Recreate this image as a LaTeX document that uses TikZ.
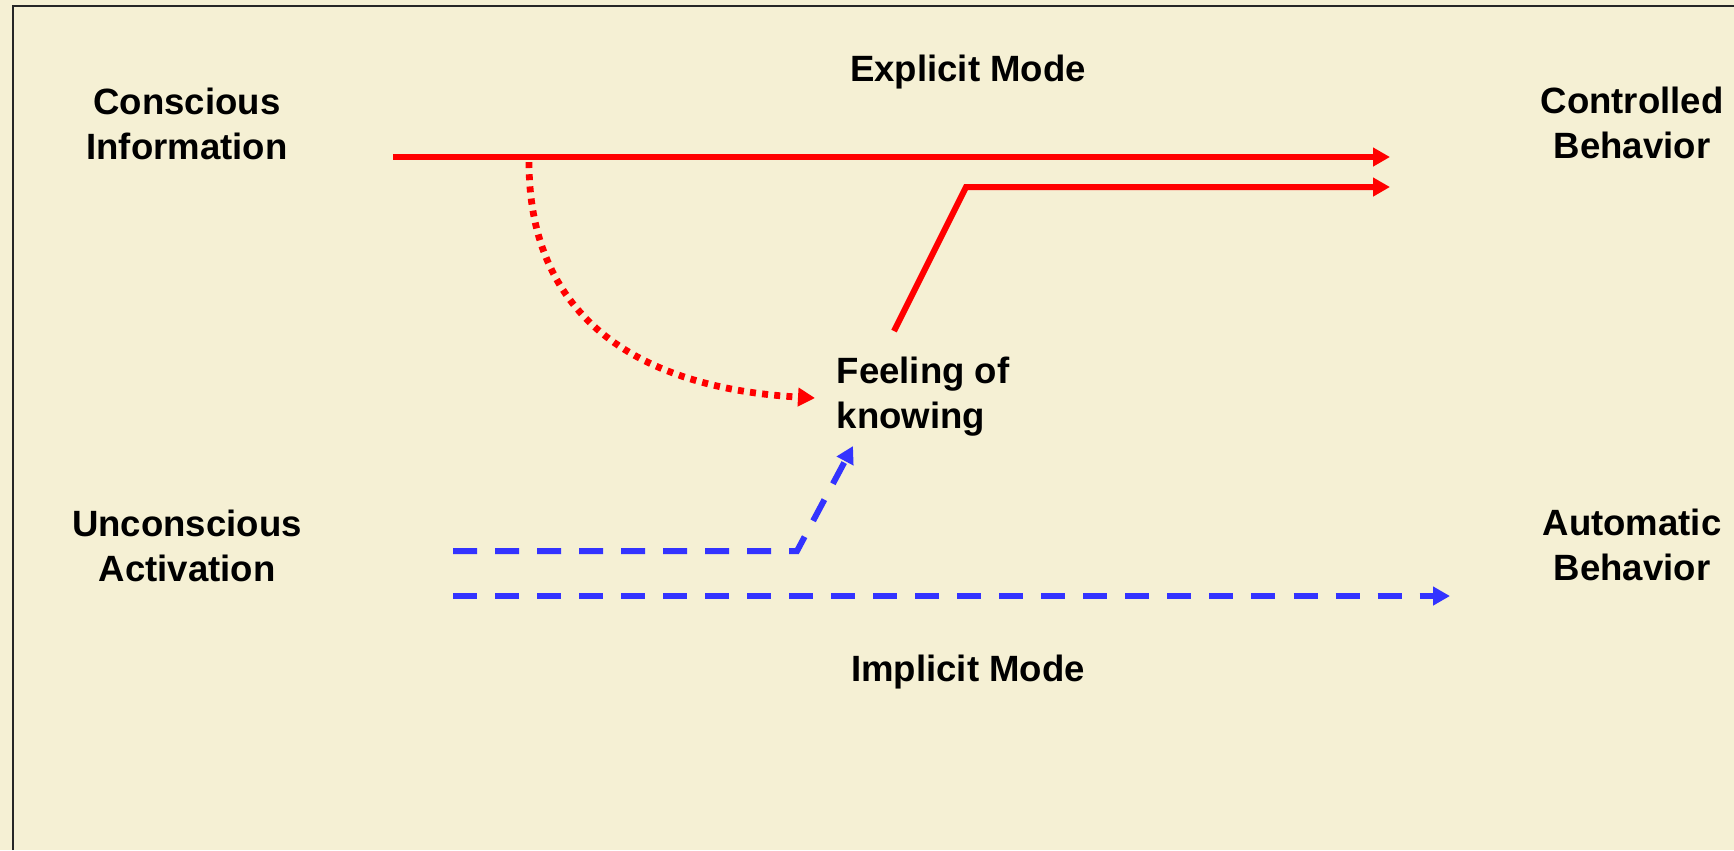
\documentclass[tikz,border=0pt]{standalone}
\usepackage{fontspec}
\setmainfont{Liberation Sans}
\usetikzlibrary{arrows.meta,positioning}
\definecolor{paper}{HTML}{F5F0D4}
\definecolor{actred}{HTML}{FF0000}
\definecolor{actblue}{HTML}{3333FF}
\tikzset{
  word/.style={
    font=\bfseries\fontsize{10.4pt}{12.8pt}\selectfont,
    align=center,
    inner sep=0pt,
    anchor=base
  },
  explicitpath/.style={
    draw=actred,
    line width=0.06cm,
    -{Triangle[length=0.17cm,width=0.18cm]}
  },
  implicitpath/.style={
    draw=actblue,
    line width=0.06cm,
    dash pattern=on 0.24cm off 0.18cm,
    -{Triangle[length=0.17cm,width=0.18cm]}
  },
  dotpath/.style={
    draw=actred,
    line width=0.068cm,
    dash pattern=on 0.06cm off 0.062cm,
    -{Triangle[length=0.17cm,width=0.18cm]}
  }
}

\begin{document}
\begin{tikzpicture}[x=0.01cm,y=-0.01cm]
    \useasboundingbox[fill=paper] (0,0) rectangle (1734,850);
    \draw[line width=0.02cm, color=black!85] (13,850) -- (13,6) -- (1734,6);

    % labels (base = last line)
    \node[word] (conscious) at (187,159) {Conscious\\Information};
    \node[word] (unconscious) at (187,581) {Unconscious\\Activation};
    \node[word] (controlled) at (1632,158) {Controlled\\Behavior};
    \node[word] (automatic) at (1632,580) {Automatic\\Behavior};
    \node[word] (explicit) at (968,81) {Explicit Mode};
    \node[word] (implicit) at (968,681) {Implicit Mode};
    \node[word, align=left, anchor=base west] (feeling) at (836,428) {Feeling of\\knowing};

    % end points
    \coordinate (redA) at (393,157);
    \coordinate (redA-end) at (1390,157);
    \coordinate (redB) at (894,331);
    \coordinate (redB-knee) at (966,187);
    \coordinate (redB-end) at (1390,187);
    \coordinate (dots) at (529,162);
    \coordinate (dots-end) at (815,398);
    \coordinate (blueA) at (453,551);
    \coordinate (blueA-knee) at (797,551);
    \coordinate (blueA-end) at (853,446);
    \coordinate (blueB) at (453,596);
    \coordinate (blueB-end) at (1450,596);

    % explicit mode
    \draw[explicitpath] (redA) -- (redA-end);
    \draw[explicitpath] (redB) -- (redB-knee) -- (redB-end);
    \draw[dotpath] (dots) .. controls (529,330) and (655,389) .. (dots-end);

    % implicit mode
    \draw[implicitpath] (blueA) -- (blueA-knee) -- (blueA-end);
    \draw[implicitpath] (blueB) -- (blueB-end);
\end{tikzpicture}
\end{document}
